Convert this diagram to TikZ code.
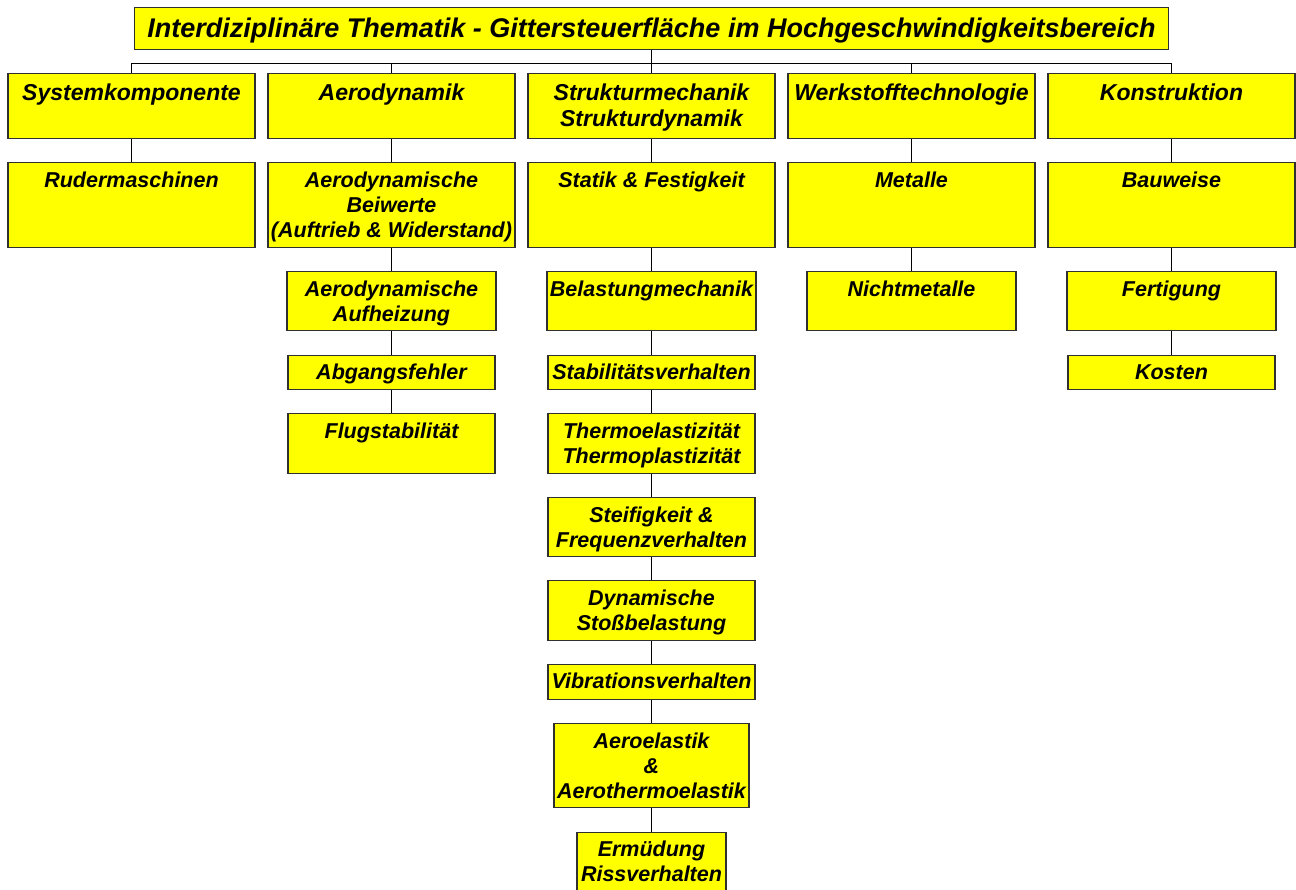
\documentclass[tikz,border=0pt]{standalone}
\usepackage{fontspec}
\setmainfont{Liberation Sans}
\usepackage{xcolor}
\definecolor{boxFill}{HTML}{FFFF00}
\definecolor{boxBorder}{HTML}{303030}

% box content: width, height, first baseline, text (top aligned)
\newcommand{\celltext}[4]{\parbox[c][#2pt][t]{#1pt}{\centering\rule{0pt}{#3pt}#4}}

\tikzset{
    cell/.style={rectangle, draw=boxBorder, fill=boxFill, line width=1.2pt, inner sep=0pt, anchor=north,
        font=\fontsize{21.5}{25}\selectfont\bfseries\itshape},
    headcell/.style={cell, font=\fontsize{23}{26}\selectfont\bfseries\itshape},
    titlecell/.style={cell, font=\fontsize{27}{30}\selectfont\bfseries\itshape},
    link/.style={draw=black, line width=0.9pt}
}

\begin{document}
\begin{tikzpicture}[x=1pt, y=-1pt]

    \useasboundingbox (0,0) rectangle (1296,889);

    % Title
    \node[titlecell] (title) at (651.5,7) {\celltext{1034}{42}{30}{Interdiziplinäre Thematik - Gittersteuerfläche im Hochgeschwindigkeitsbereich}};

    % Disciplines
    \node[headcell] (sys)   at (131.5,73)  {\celltext{247}{65}{27}{Systemkomponente}};
    \node[headcell] (aero)  at (391.5,73)  {\celltext{247}{65}{27}{Aerodynamik}};
    \node[headcell] (struk) at (651.5,73)  {\celltext{247}{65}{27}{Strukturmechanik\\Strukturdynamik}};
    \node[headcell] (werk)  at (911.5,73)  {\celltext{247}{65}{27}{Werkstofftechnologie}};
    \node[headcell] (kons)  at (1171.5,73) {\celltext{247}{65}{27}{Konstruktion}};

    % Second row
    \node[cell] (ruder)  at (131.5,162)  {\celltext{247}{85}{24.5}{Rudermaschinen}};
    \node[cell] (beiw)   at (391.5,162)  {\celltext{247}{85}{24.5}{Aerodynamische\\Beiwerte\\(Auftrieb \& Widerstand)}};
    \node[cell] (statik) at (651.5,162)  {\celltext{247}{85}{24.5}{Statik \& Festigkeit}};
    \node[cell] (metall) at (911.5,162)  {\celltext{247}{85}{24.5}{Metalle}};
    \node[cell] (bau)    at (1171.5,162) {\celltext{247}{85}{24.5}{Bauweise}};

    % Third row
    \node[cell] (aufh)  at (391.5,271)  {\celltext{209}{59}{24.5}{Aerodynamische\\Aufheizung}};
    \node[cell] (bel)   at (651.5,271)  {\celltext{209}{59}{24.5}{Belastungmechanik}};
    \node[cell] (nicht) at (911.5,271)  {\celltext{209}{59}{24.5}{Nichtmetalle}};
    \node[cell] (fert)  at (1171.5,271) {\celltext{209}{59}{24.5}{Fertigung}};

    % Fourth row
    \node[cell] (abg)  at (391.5,355)  {\celltext{207}{34}{24}{Abgangsfehler}};
    \node[cell] (stab) at (651.5,355)  {\celltext{207}{34}{24}{Stabilitätsverhalten}};
    \node[cell] (kost) at (1171.5,355) {\celltext{207}{34}{24}{Kosten}};

    % Fifth row and below
    \node[cell] (flug)   at (391.5,413) {\celltext{207}{60}{24.5}{Flugstabilität}};
    \node[cell] (thermo) at (651.5,413) {\celltext{207}{60}{24.5}{Thermoelastizität\\Thermoplastizität}};
    \node[cell] (steif)  at (651.5,497) {\celltext{207}{59}{24.5}{Steifigkeit \&\\Frequenzverhalten}};
    \node[cell] (dyn)    at (651.5,580) {\celltext{207}{60}{24.5}{Dynamische\\Stoßbelastung}};
    \node[cell] (vib)    at (651.5,664) {\celltext{207}{35}{24}{Vibrationsverhalten}};
    \node[cell] (aeroel) at (651.5,723) {\celltext{195}{84}{25}{Aeroelastik\\\&\\Aerothermoelastik}};
    \node[cell] (ermued) at (651.5,832) {\celltext{149}{66}{24}{Ermüdung\\Rissverhalten}};

    % Links
    \foreach \n in {sys,aero,struk,werk,kons}
        \draw[link] (title.south) -- ++(0,13) -| (\n.north);
    \foreach \a/\b in {sys/ruder, aero/beiw, beiw/aufh, aufh/abg, abg/flug,
                       struk/statik, statik/bel, bel/stab, stab/thermo, thermo/steif,
                       steif/dyn, dyn/vib, vib/aeroel, aeroel/ermued,
                       werk/metall, metall/nicht, kons/bau, bau/fert, fert/kost}
        \draw[link] (\a.south) -- (\b.north);

\end{tikzpicture}
\end{document}
